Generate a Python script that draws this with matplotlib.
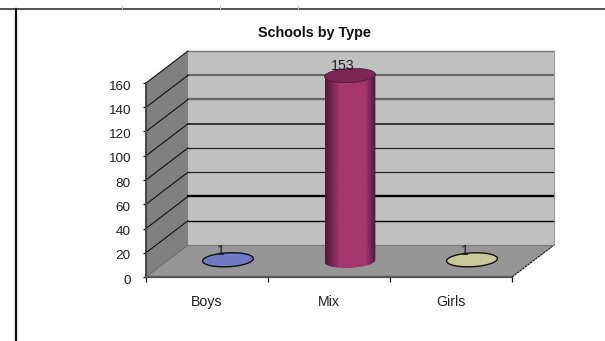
import numpy as np
import matplotlib
matplotlib.use("Agg")
import matplotlib.pyplot as plt
from matplotlib.colors import LinearSegmentedColormap
from matplotlib.lines import Line2D
from matplotlib.patches import Polygon
from matplotlib.transforms import ScaledTranslation

plt.rcParams['font.family'] = ['Liberation Sans', 'DejaVu Sans']

categories = ['Boys', 'Mix', 'Girls']
values = [1, 153, 1]
y_ticks = [0, 20, 40, 60, 80, 100, 120, 140, 160]
side_colors = ['#7078c8', '#a5366e', '#c8c89a']
dark_colors = ['#3c3c70', '#4a1a3a', '#555530']
top_colors = ['#7078c8', '#7c2655', '#c8c89a']
# the downscaled source makes every gridline look a bit different
grid_widths = [1.0, 1.7, 0.9, 0.9, 1.4, 1.6, 1.5, 1.0]
grid_colors = ['#000000', '#000000', '#222222', '#222222', '#333333', '#666666', '#666666', '#777777']

W, H = 605, 341
fig = plt.figure(figsize=(W / 100, H / 100), dpi=100)
# axes = the front plane of the 3d box
ax = fig.add_axes([146 / W, 1 - 277 / H, 366 / W, 194 / H])
ax.set_xlim(0, 3)
ax.set_ylim(0, 160)

# depth offset of the box, in data units
DX = 42 / 122
DY = 32 / (194 / 160)


def proj(x, y, d):
    return x + d * DX, y + d * DY


def ellipse(xc, y, n=200):
    t = np.linspace(0, 2 * np.pi, n)
    cx, cy = proj(xc, y, 0.5)
    return cx + 0.205 * np.cos(t) + 0.035 * np.sin(t), cy + 5.8 * np.sin(t)


# walls and floor
ax.add_patch(Polygon([proj(0, 0, 1), proj(3, 0, 1), proj(3, 160, 1), proj(0, 160, 1)],
                     fc='#c0c0c0', ec='none', zorder=1, clip_on=False))
ax.add_patch(Polygon([proj(0, 0, 0), proj(0, 0, 1), proj(0, 160, 1), proj(0, 160, 0)],
                     fc='#808080', ec='none', zorder=1, clip_on=False))
ax.add_patch(Polygon([proj(0, 0, 0), proj(3, 0, 0), proj(3, 0, 1), proj(0, 0, 1)],
                     fc='#969696', ec='none', zorder=1, clip_on=False))

# gridlines on the back wall and side wall
for v, lw, col in zip(y_ticks[1:], grid_widths, grid_colors):
    xs, ys = zip(proj(0, v, 1), proj(3, v, 1))
    ax.plot(xs, ys, color=col, lw=lw, zorder=2, clip_on=False)
    xs, ys = zip(proj(0, v, 0), proj(0, v, 1))
    ax.plot(xs, ys, color='#111111', lw=0.8, zorder=2, clip_on=False)

# box edges
ax.plot([0, 0], [0, 160], color='#444444', lw=1.4, zorder=3, clip_on=False)
ax.plot([0, 3], [0, 0], color='#555555', lw=1.6, zorder=3, clip_on=False)
xs, ys = zip(proj(3, 0, 0), proj(3, 0, 1))
ax.plot(xs, ys, color='#222222', lw=0.9, ls=(0, (2, 0.6)), zorder=3, clip_on=False)
xs, ys = zip(proj(0, 0, 0), proj(0, 0, 1))
ax.plot(xs, ys, color='#666666', lw=0.7, zorder=3, clip_on=False)
xs, ys = zip(proj(0, 0, 1), proj(3, 0, 1))
ax.plot(xs, ys, color='#777777', lw=0.8, zorder=3, clip_on=False)
xs, ys = zip(proj(3, 0, 1), proj(3, 160, 1))
ax.plot(xs, ys, color='#999999', lw=0.8, zorder=3, clip_on=False)

# cylinders
for i, (v, side, dark, top) in enumerate(zip(values, side_colors, dark_colors, top_colors)):
    xc = i + 0.5
    ex0, ey0 = ellipse(xc, 0)
    ex1, ey1 = ellipse(xc, v)
    if v > 10:
        left, right = np.argmin(ex0), np.argmax(ex0)
        # lower half of the base runs from the leftmost to the rightmost point
        idx = np.arange(left, right + 1) if left < right else np.r_[left:len(ex0), 0:right + 1]
        body = list(zip(ex0[idx], ey0[idx])) + [(ex1[right], ey1[right]), (ex1[left], ey1[left])]
        clip = Polygon(body, transform=ax.transData, fc='none', ec='none', clip_on=False)
        ax.add_patch(clip)
        cmap = LinearSegmentedColormap.from_list('cyl', [(0, dark), (0.28, side), (0.8, side), (1, dark)])
        im = ax.imshow(np.linspace(0, 1, 64).reshape(1, -1), cmap=cmap, aspect='auto', zorder=4,
                       extent=(ex0.min(), ex0.max(), 0, v + DY), interpolation='bilinear')
        im.set_clip_box(fig.bbox)
        im.set_clip_path(clip)
        ax.add_patch(Polygon(list(zip(ex1, ey1)), fc=top, ec=dark, lw=0.6, zorder=5, clip_on=False))
    else:
        ax.add_patch(Polygon(list(zip(ex1, ey1)), fc=side, ec='#111111', lw=1.0, zorder=5, clip_on=False))
    lx, ly = proj(xc, v, 0.5)
    ax.annotate(str(v), (lx, ly), xytext=(-5.4, 6.6), textcoords='offset points', ha='center', va='center',
                fontsize=10.2, color='#222222', zorder=6, annotation_clip=False)

ax.set_xlim(0, 3)
ax.set_ylim(0, 160)

# axes and labels
for s in ax.spines.values():
    s.set_visible(False)
ax.patch.set_visible(False)
ax.set_yticks(y_ticks)
ax.set_xticks(range(len(categories) + 1))
ax.set_xticklabels([''] * (len(categories) + 1))
ax.set_xticks([i + 0.5 for i in range(len(categories))], categories, minor=True)
ax.tick_params(axis='y', length=2.5, width=0.9, color='#111111', labelsize=9.7, labelcolor='#222222', pad=8.5)
# labels sit a little below their ticks in the reference
for lab in ax.get_yticklabels():
    lab.set_transform(lab.get_transform() + ScaledTranslation(0, -1.5 / 72, fig.dpi_scale_trans))
ax.tick_params(axis='x', which='major', length=3.5, width=0.9, color='#111111')
ax.tick_params(axis='x', which='minor', length=0, labelsize=10.2, labelcolor='#222222', pad=13)

fig.text(314 / W, 1 - 33 / H, 'Schools by Type', ha='center', va='center', fontsize=10.4, fontweight='bold', color='#111111')

# page rules around the chart
fig.add_artist(Line2D([0, 1], [1 - 9 / H, 1 - 9 / H], color='#222222', lw=1.1))
fig.add_artist(Line2D([16 / W, 16 / W], [0, 1 - 9 / H], color='#111111', lw=1.6))
for px in (122, 220, 298):
    fig.add_artist(Line2D([px / W, px / W], [1 - 9 / H, 1 - 6 / H], color='#bbbbbb', lw=0.8))

fig.savefig('out.png', dpi=100)
